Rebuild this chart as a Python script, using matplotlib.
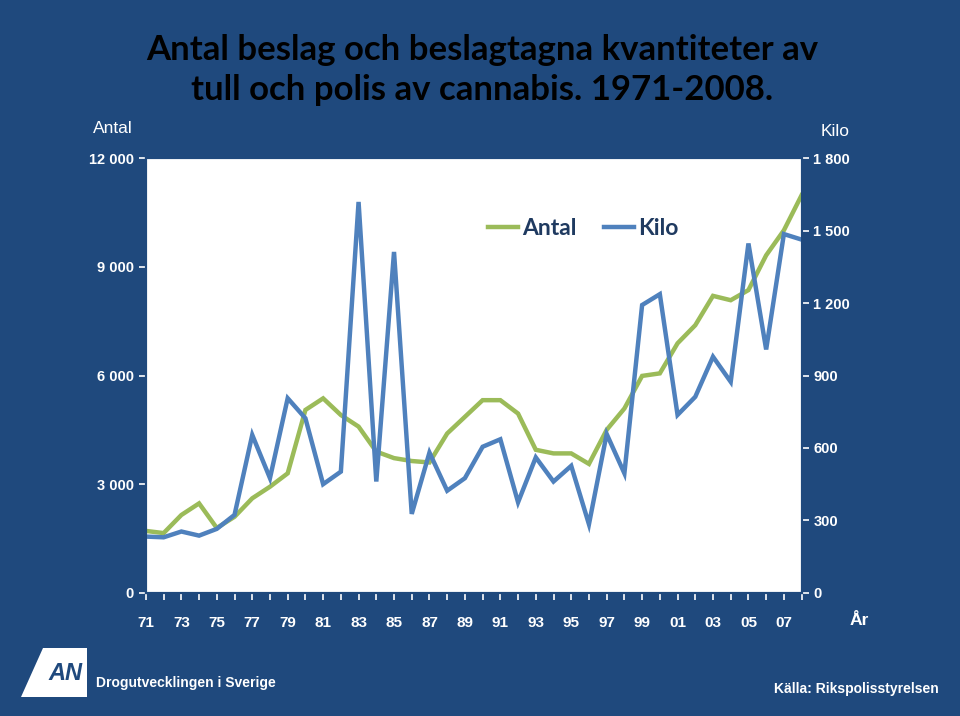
import matplotlib
matplotlib.use("Agg")
import matplotlib.pyplot as plt
from matplotlib.patches import Polygon
from matplotlib.ticker import FuncFormatter

years = list(range(1971, 2009))
antal = [1710, 1650, 2150, 2470, 1790, 2100, 2610, 2930, 3300, 5050,
         5370, 4910, 4590, 3900, 3720, 3640, 3600, 4400, 4860, 5320,
         5320, 4950, 3950, 3850, 3850, 3560, 4500, 5090, 5990, 6060,
         6890, 7390, 8200, 8080, 8360, 9320, 10010, 10980]
kilo = [233, 230, 254, 237, 265, 323, 654, 475, 806, 723,
        450, 502, 1619, 461, 1412, 327, 581, 423, 475, 605,
        636, 375, 561, 461, 526, 284, 658, 495, 1192, 1237,
        737, 812, 978, 874, 1447, 1008, 1486, 1463]
x_labels = ["71", "73", "75", "77", "79", "81", "83", "85", "87", "89",
            "91", "93", "95", "97", "99", "01", "03", "05", "07"]

bg = "#1F497D"
green = "#9BBB59"
blue = "#4F81BD"
font = ["Liberation Sans", "DejaVu Sans"]


def thousands(v, pos):
    return f"{int(v):,}".replace(",", " ")


fig = plt.figure(figsize=(9.6, 7.16), dpi=100, facecolor=bg)
ax = fig.add_axes([0.152, 0.172, 0.683, 0.607])
ax.set_facecolor("white")
ax2 = ax.twinx()

l1, = ax.plot(years, antal, color=green, lw=3.2, label="Antal", solid_joinstyle="miter")
l2, = ax2.plot(years, kilo, color=blue, lw=3.2, label="Kilo", solid_joinstyle="miter")

ax.set_xlim(1971, 2008)
ax.set_ylim(0, 12000)
ax2.set_ylim(0, 1800)
ax.set_yticks(range(0, 12001, 3000))
ax2.set_yticks(range(0, 1801, 300))
ax.yaxis.set_major_formatter(FuncFormatter(thousands))
ax2.yaxis.set_major_formatter(FuncFormatter(thousands))
ax.set_xticks(range(1971, 2008, 2))
ax.set_xticklabels(x_labels)
ax.set_xticks(years, minor=True)

for a in (ax, ax2):
    for s in a.spines.values():
        s.set_color(bg)
        s.set_linewidth(1.5)
    a.tick_params(axis="y", colors="white", direction="out", length=5,
                  width=1.2, labelsize=10.5)
    for t in a.get_yticklabels():
        t.set_fontweight("bold")
        t.set_family(font)
ax.tick_params(axis="x", which="both", colors="white", direction="out",
               length=5, width=1.2)
ax.tick_params(axis="x", which="major", pad=12, labelsize=11)
for t in ax.get_xticklabels():
    t.set_fontweight("bold")
    t.set_family(font)

leg = ax.legend([l1, l2], ["Antal", "Kilo"], loc="upper left",
                bbox_to_anchor=(0.49, 0.91), ncol=2, frameon=False,
                handlelength=1.3, handletextpad=0.2, columnspacing=1.2,
                prop={"family": ["Lato", "DejaVu Sans"], "weight": "bold", "size": 16.5})
for t in leg.get_texts():
    t.set_color("#1F3A60")

fig.text(0.502, 0.902, "Antal beslag och beslagtagna kvantiteter av\ntull och polis av cannabis. 1971-2008.",
         ha="center", va="center", fontsize=25, fontweight="bold", color="black",
         family=["Lato", "DejaVu Sans"], linespacing=1.32)
fig.text(0.118, 0.821, "Antal", ha="center", va="center", color="white",
         fontsize=12.5, family=font)
fig.text(0.87, 0.816, "Kilo", ha="center", va="center", color="white",
         fontsize=12.5, family=font)
fig.text(0.895, 0.134, "År", ha="center", va="center", color="white",
         fontsize=12.5, fontweight="bold", family=font)
fig.text(0.1, 0.046, "Drogutvecklingen i Sverige", ha="left", va="center",
         color="white", fontsize=10, fontweight="bold", family=font)
fig.text(0.978, 0.038, "Källa: Rikspolisstyrelsen", ha="right", va="center",
         color="white", fontsize=10, fontweight="bold", family=font)

# CAN logo (simplified)
logo = Polygon([[0.045, 0.095], [0.091, 0.095], [0.091, 0.027],
                [0.022, 0.027]], closed=True, transform=fig.transFigure,
               facecolor="white", edgecolor="none")
fig.add_artist(logo)
fig.text(0.068, 0.06, "AN", ha="center", va="center", color=bg,
         fontsize=17, fontweight="bold", style="italic", family=font)

fig.savefig("out.png", dpi=100, facecolor=bg)
